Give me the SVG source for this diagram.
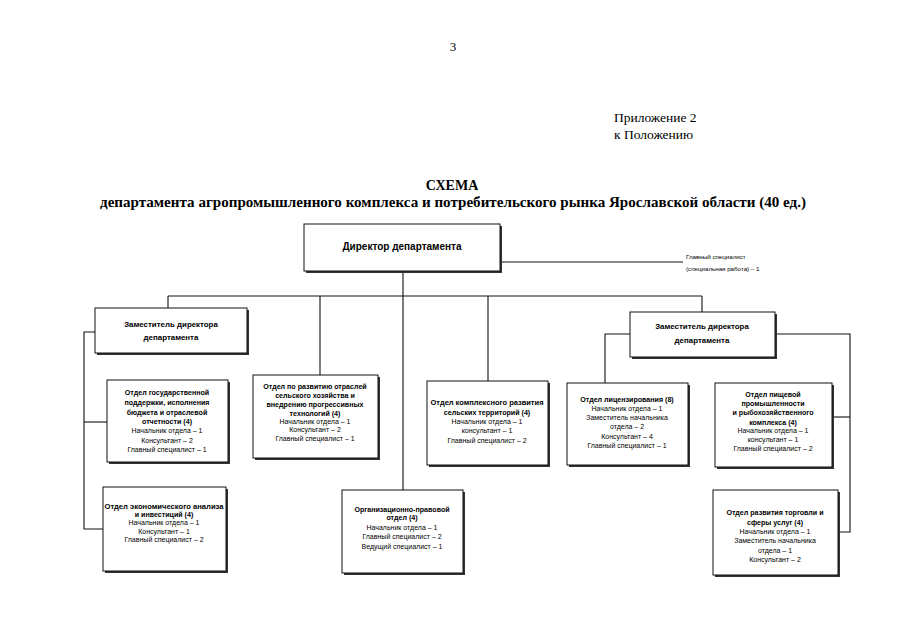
<svg xmlns="http://www.w3.org/2000/svg" width="905" height="640" viewBox="0 0 905 640">
<style>
.bg{fill:#fff}
.sh{fill:#333}
.bx{fill:#fff;stroke:#111;stroke-width:1}
.ln{stroke:#111;stroke-width:1.1;fill:none}
.hd{font-family:"Liberation Serif",serif;fill:#000}
.tb{font-family:"Liberation Sans",Arial,sans-serif;font-size:7.1px;font-weight:bold;text-anchor:middle;fill:#000}
.tr{font-family:"Liberation Sans",Arial,sans-serif;font-size:7px;text-anchor:middle;fill:#000}
.big{font-family:"Liberation Sans",Arial,sans-serif;font-size:10px;font-weight:bold;text-anchor:middle;fill:#000}
.dep{font-family:"Liberation Sans",Arial,sans-serif;font-size:7.9px;font-weight:bold;text-anchor:middle;fill:#000}
.sm{font-family:"Liberation Sans",Arial,sans-serif;font-size:6.2px;fill:#000}
</style>
<rect class="bg" x="0" y="0" width="905" height="640"/>
<g id="header">
<text class="hd" x="453" y="51" font-size="13" text-anchor="middle">3</text>
<text class="hd" x="614" y="122" font-size="13.5">Приложение 2</text>
<text class="hd" x="614" y="139" font-size="13.5">к Положению</text>
<text class="hd" x="452" y="190" font-size="14" font-weight="bold" text-anchor="middle">СХЕМА</text>
<text class="hd" x="100" y="207" font-size="14" font-weight="bold" textLength="706" lengthAdjust="spacingAndGlyphs">департамента агропромышленного комплекса и потребительского рынка Ярославской области (40 ед.)</text>
</g>
<g id="connectors">
<polyline class="ln" points="500,262 683,262"/>
<polyline class="ln" points="403,271 403,490"/>
<polyline class="ln" points="168,296 702,296"/>
<polyline class="ln" points="168,296 168,308"/>
<polyline class="ln" points="320,296 320,375"/>
<polyline class="ln" points="488,296 488,381"/>
<polyline class="ln" points="702,296 702,312"/>
<polyline class="ln" points="95,332 84,332 84,529 103,529"/>
<polyline class="ln" points="84,422 107,422"/>
<polyline class="ln" points="630,334 605,334 605,383"/>
<polyline class="ln" points="775,334 850,334 850,532 838,532"/>
<polyline class="ln" points="832,417 850,417"/>
</g>
<g id="director">
<rect class="sh" x="306" y="226" width="196" height="47"/>
<rect class="bx" x="304" y="224" width="196" height="47"/>
<text class="big" x="402" y="250">Директор департамента</text>
</g>
<g id="chief-specialist">
<text class="sm" x="686" y="259">Главный специалист</text>
<text class="sm" x="686" y="271">(специальная работа) – 1</text>
</g>
<g id="deputy-left">
<rect class="sh" x="97" y="310" width="152" height="45"/>
<rect class="bx" x="95" y="308" width="152" height="45"/>
<text class="dep" x="171" y="327">Заместитель директора</text>
<text class="dep" x="171" y="340">департамента</text>
</g>
<g id="deputy-right">
<rect class="sh" x="632" y="314" width="145" height="45"/>
<rect class="bx" x="630" y="312" width="145" height="45"/>
<text class="dep" x="702" y="329">Заместитель директора</text>
<text class="dep" x="702" y="343">департамента</text>
</g>
<g id="dept-gospodderzhka">
<rect class="sh" x="109" y="382" width="121" height="82"/>
<rect class="bx" x="107" y="380" width="121" height="82"/>
<text class="tb" x="167" y="395">Отдел государственной</text>
<text class="tb" x="167" y="405">поддержки, исполнения</text>
<text class="tb" x="167" y="415">бюджета и отраслевой</text>
<text class="tb" x="167" y="424">отчетности (4)</text>
<text class="tr" x="167" y="433">Начальник отдела – 1</text>
<text class="tr" x="167" y="443">Консультант – 2</text>
<text class="tr" x="167" y="452">Главный специалист – 1</text>
</g>
<g id="dept-razvitie">
<rect class="sh" x="255" y="377" width="125" height="83"/>
<rect class="bx" x="253" y="375" width="125" height="83"/>
<text class="tb" x="315" y="389">Отдел по развитию отраслей</text>
<text class="tb" x="315" y="398">сельского хозяйства и</text>
<text class="tb" x="315" y="407">внедрению прогрессивных</text>
<text class="tb" x="315" y="416">технологий (4)</text>
<text class="tr" x="315" y="424">Начальник отдела – 1</text>
<text class="tr" x="315" y="432">Консультант – 2</text>
<text class="tr" x="315" y="441">Главный специалист – 1</text>
</g>
<g id="dept-territorii">
<rect class="sh" x="429" y="383" width="121" height="84"/>
<rect class="bx" x="427" y="381" width="121" height="84"/>
<text class="tb" x="487" y="405" textLength="113" lengthAdjust="spacingAndGlyphs">Отдел комплексного развития</text>
<text class="tb" x="487" y="415">сельских территорий (4)</text>
<text class="tr" x="487" y="424">Начальник отдела – 1</text>
<text class="tr" x="487" y="433">консультант – 1</text>
<text class="tr" x="487" y="443">Главный специалист – 2</text>
</g>
<g id="dept-licenz">
<rect class="sh" x="569" y="385" width="121" height="82"/>
<rect class="bx" x="567" y="383" width="121" height="82"/>
<text class="tb" x="627" y="402">Отдел лицензирования (8)</text>
<text class="tr" x="627" y="411">Начальник отдела – 1</text>
<text class="tr" x="627" y="420">Заместитель начальника</text>
<text class="tr" x="627" y="429">отдела – 2</text>
<text class="tr" x="627" y="439">Консультант – 4</text>
<text class="tr" x="627" y="448">Главный специалист – 1</text>
</g>
<g id="dept-pishchevoi">
<rect class="sh" x="717" y="385" width="117" height="84"/>
<rect class="bx" x="715" y="383" width="117" height="84"/>
<text class="tb" x="773" y="397">Отдел пищевой</text>
<text class="tb" x="773" y="406">промышленности</text>
<text class="tb" x="773" y="415">и рыбохозяйственного</text>
<text class="tb" x="773" y="425">комплекса (4)</text>
<text class="tr" x="773" y="433">Начальник отдела – 1</text>
<text class="tr" x="773" y="442">консультант – 1</text>
<text class="tr" x="773" y="451">Главный специалист – 2</text>
</g>
<g id="dept-torgovlya">
<rect class="sh" x="715" y="492" width="125" height="85"/>
<rect class="bx" x="713" y="490" width="125" height="85"/>
<text class="tb" x="775" y="515">Отдел развития торговли и</text>
<text class="tb" x="775" y="525">сферы услуг (4)</text>
<text class="tr" x="775" y="534">Начальник отдела – 1</text>
<text class="tr" x="775" y="543">Заместитель начальника</text>
<text class="tr" x="775" y="553">отдела – 1</text>
<text class="tr" x="775" y="562">Консультант – 2</text>
</g>
<g id="dept-ekonomika">
<rect class="sh" x="105" y="489" width="123" height="84"/>
<rect class="bx" x="103" y="487" width="123" height="84"/>
<text class="tb" x="164" y="509" textLength="119" lengthAdjust="spacingAndGlyphs">Отдел экономического анализа</text>
<text class="tb" x="164" y="517">и инвестиций (4)</text>
<text class="tr" x="164" y="525">Начальник отдела – 1</text>
<text class="tr" x="164" y="534">Консультант – 1</text>
<text class="tr" x="164" y="542">Главный специалист – 2</text>
</g>
<g id="dept-pravovoi">
<rect class="sh" x="344" y="492" width="121" height="83"/>
<rect class="bx" x="342" y="490" width="121" height="83"/>
<text class="tb" x="402" y="512">Организационно-правовой</text>
<text class="tb" x="402" y="520">отдел (4)</text>
<text class="tr" x="402" y="530">Начальник отдела – 1</text>
<text class="tr" x="402" y="539">Главный специалист – 2</text>
<text class="tr" x="402" y="549">Ведущий специалист – 1</text>
</g>
</svg>
